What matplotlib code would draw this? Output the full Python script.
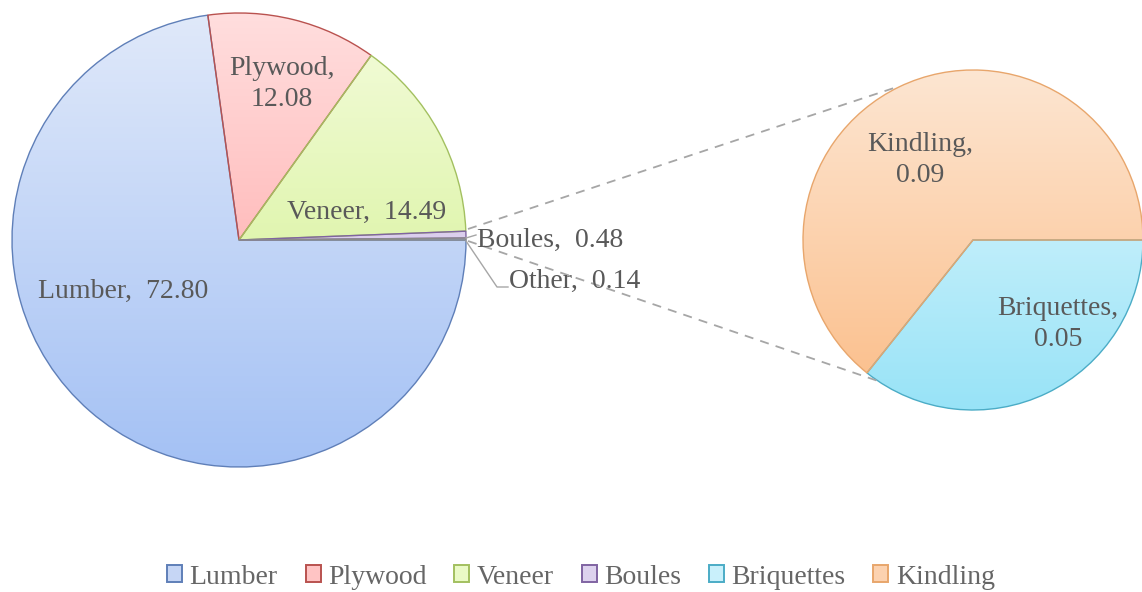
import matplotlib
matplotlib.use("Agg")
import matplotlib.pyplot as plt
import numpy as np
from matplotlib.colors import LinearSegmentedColormap
from matplotlib.patches import Patch

# ---- data ----
main_labels = ["Lumber", "Plywood", "Veneer", "Boules", "Other"]
main_values = [72.80, 12.08, 14.49, 0.48, 0.14]
sub_labels = ["Briquettes", "Kindling"]
sub_values = [0.05, 0.09]
legend_labels = ["Lumber", "Plywood", "Veneer", "Boules", "Briquettes", "Kindling"]

W, H = 1142, 592
def Y(p):
    return H - p

# styles
grad = {
    "Lumber": ("#e0e9fa", "#a4c1f4"),
    "Plywood": ("#ffdede", "#ff9c9c"),
    "Veneer": ("#f4fcdc", "#cdef84"),
    "Boules": ("#ece4f6", "#cbb8e4"),
    "Other": ("#f4f4f4", "#dddddd"),
    "Briquettes": ("#e6f9fe", "#98e3f7"),
    "Kindling": ("#fde6d2", "#fbbd88"),
}
edges = {
    "Lumber": "#5f7fb8",
    "Plywood": "#b9524f",
    "Veneer": "#a3c060",
    "Boules": "#8064a2",
    "Other": "#8a8a8a",
    "Briquettes": "#4bacc6",
    "Kindling": "#e8a66c",
}
legend_face = {
    "Lumber": "#c6d6f5", "Plywood": "#ffc4c4", "Veneer": "#eafac6",
    "Boules": "#ddd2ee", "Briquettes": "#c9f0fb", "Kindling": "#fcd2b0",
}
txt_color = "#595959"
font = "Liberation Serif"

fig = plt.figure(figsize=(W / 100, H / 100), dpi=100)
ax = fig.add_axes([0, 0, 1, 1])

def draw_pie(values, labels, center, radius):
    wedges, _ = ax.pie(values, center=center, radius=radius, startangle=0,
                       counterclock=False,
                       wedgeprops=dict(linewidth=1.0, facecolor="none"))
    cx, cy = center
    g = np.linspace(0, 1, 256).reshape(-1, 1)
    for w, lab in zip(wedges, labels):
        w.set_edgecolor(edges[lab])
        w.set_zorder(3)
        cmap = LinearSegmentedColormap.from_list(lab, list(grad[lab]))
        im = ax.imshow(g, cmap=cmap, extent=[cx - radius, cx + radius, cy - radius, cy + radius],
                       aspect="auto", zorder=2, interpolation="bilinear")
        im.set_clip_path(w)
    return wedges

draw_pie(main_values, main_labels, (239, Y(240)), 227)
draw_pie(sub_values, sub_labels, (973, Y(240)), 170)

# connector dashed lines
ax.plot([468, 897], [Y(229), Y(87)], color="#a6a6a6", lw=1.3, ls=(0, (5, 4)), zorder=4)
ax.plot([468, 881], [Y(241), Y(382)], color="#a6a6a6", lw=1.3, ls=(0, (5, 4)), zorder=4)

# leader lines
ax.plot([466, 476], [Y(238), Y(235)], color="#a6a6a6", lw=1.0, zorder=4)
ax.plot([466, 497, 508], [Y(241), Y(287), Y(287)], color="#a6a6a6", lw=1.0, zorder=4)

# data labels
fs = 20
def lab(x, y, s, ha="center"):
    ax.text(x, Y(y), s, ha=ha, va="center", fontsize=fs, family=font,
            color=txt_color, zorder=5, linespacing=1.33)

lab(282, 84, "Plywood,\n12.08")
lab(367, 212, "Veneer,  14.49")
lab(123, 291, "Lumber,  72.80")
lab(477, 240, "Boules,  0.48", ha="left")
lab(509, 281, "Other,  0.14", ha="left")
lab(920, 160, "Kindling,\n0.09")
lab(1058, 324, "Briquettes,\n0.05")

# legend
handles = [Patch(facecolor=legend_face[l], edgecolor=edges[l], linewidth=1.4) for l in legend_labels]
leg = fig.legend(handles, legend_labels, loc="center", bbox_to_anchor=(581 / W, 1 - 577 / H),
                 ncol=6, frameon=False, handlelength=0.54, handleheight=0.54,
                 handletextpad=0.27, columnspacing=1.0, borderaxespad=0,
                 prop=dict(family=font, size=fs))
for t in leg.get_texts():
    t.set_color("#666666")

ax.set_xlim(0, W)
ax.set_ylim(0, H)
ax.set_aspect("auto")
ax.axis("off")

fig.savefig("out.png", dpi=100)
